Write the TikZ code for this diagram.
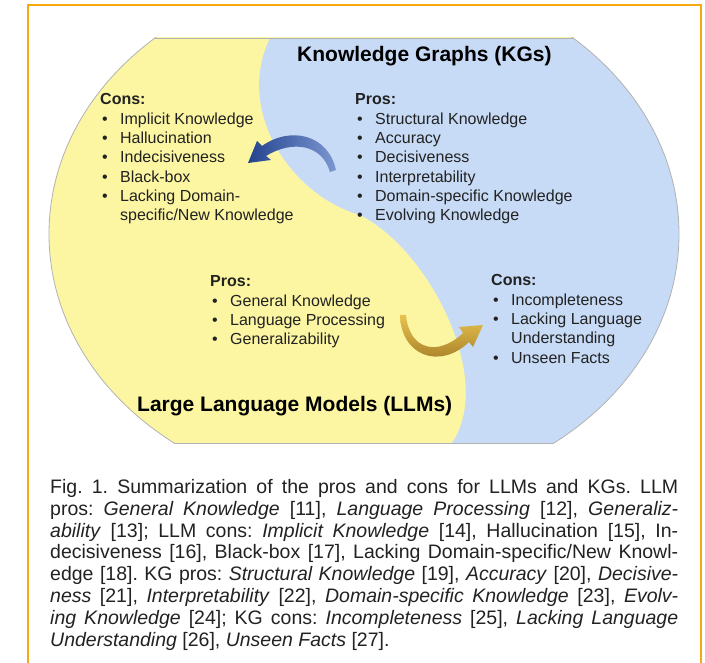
\documentclass[tikz,border=0pt]{standalone}
\usepackage{fontspec}
\setmainfont{Liberation Sans}
\frenchspacing
\definecolor{llmyellow}{HTML}{FCF6A2}
\definecolor{kgblue}{HTML}{C7DBF6}
\definecolor{frameorange}{HTML}{F4A90E}
\definecolor{txt}{HTML}{222222}
\definecolor{navy}{HTML}{24438F}
\definecolor{lightnavy}{HTML}{7C97D0}
\definecolor{goldA}{HTML}{E8C250}
\definecolor{goldB}{HTML}{9A7420}
\newcommand{\hd}[1]{\hbox{\textbf{#1}}}
\newcommand{\itm}[1]{\hbox{\hspace*{2pt}\makebox[18pt][l]{•}#1}}
\newcommand{\cnt}[1]{\hbox{\hspace*{20pt}#1}}
\newcommand{\jl}[1]{\hbox{\makebox[628pt][s]{#1}}}
\begin{document}
\begin{tikzpicture}[x=1pt,y=-1pt,
  listtext/.style={anchor=base west, inner sep=0pt, font=\fontsize{16}{19.3}\selectfont, text=txt},
  titletext/.style={anchor=base west, inner sep=0pt, font=\fontsize{21}{24}\selectfont\bfseries, text=black},
  captext/.style={anchor=base west, inner sep=0pt, font=\fontsize{19.5}{22}\selectfont, text=txt},
  outline/.style={draw=gray!60, line width=0.8pt}]
\useasboundingbox (0,0) rectangle (705,663);
\fill[white] (0,0) rectangle (705,663);
% frame
\draw[frameorange, line width=2pt] (28,670) -- (28,5) -- (701,5) -- (701,670);
% yin-yang shape
\begin{scope}
  \clip (0,38) rectangle (705,443);
  \clip (364,234) ellipse [x radius=315pt, y radius=262pt];
  \fill[llmyellow] (0,0) rectangle (705,663);
  \fill[kgblue] (270,38) .. controls (235,110) and (290,195) .. (360,215)
     .. controls (430,250) and (495,380) .. (452,443) -- (705,443) -- (705,38) -- cycle;
\end{scope}
\begin{scope}
  \clip (0,38) rectangle (705,443);
  \draw[outline] (364,234) ellipse [x radius=315pt, y radius=262pt];
\end{scope}
\begin{scope}
  \clip (364,234) ellipse [x radius=315pt, y radius=262pt];
  \draw[outline] (0,38) -- (705,38);
  \draw[outline] (0,443) -- (705,443);
\end{scope}
% arrows
\shade[left color=navy, right color=lightnavy]
  (336,170) .. controls (328,134) and (290,126) .. (262,146) -- (257,141) -- (248,163)
  -- (271,160) -- (266,156) .. controls (292,140) and (322,144) .. (330,172) -- cycle;
\shade[top color=goldA, bottom color=goldB]
  (400,315) .. controls (401,356) and (440,370) .. (469,342) -- (473,347) -- (483,325)
  -- (459,327) -- (463,333) .. controls (438,357) and (409,350) .. (406,315) -- cycle;
% titles
\node[titletext] (kgtitle) at (297,62) {Knowledge Graphs (KGs)};
\node[titletext] (llmtitle) at (137,412) {Large Language Models (LLMs)};
% lists
\node[listtext] (llmcons) at (100,105) {\vtop{\hd{Cons:}
  \itm{Implicit Knowledge}\itm{Hallucination}\itm{Indecisiveness}
  \itm{Black-box}\itm{Lacking Domain-}\cnt{specific/New Knowledge}}};
\node[listtext] (kgpros) at (355,105) {\vtop{\hd{Pros:}
  \itm{Structural Knowledge}\itm{Accuracy}\itm{Decisiveness}
  \itm{Interpretability}\itm{Domain-specific Knowledge}\itm{Evolving Knowledge}}};
\node[listtext] (llmpros) at (210,287) {\vtop{\hd{Pros:}
  \itm{General Knowledge}\itm{Language Processing}\itm{Generalizability}}};
\node[listtext] (kgcons) at (491,286) {\vtop{\hd{Cons:}
  \itm{Incompleteness}\itm{Lacking Language}\cnt{Understanding}\itm{Unseen Facts}}};
% caption
\node[captext] (caption) at (50,493) {\vtop{%
\jl{Fig. 1. Summarization of the pros and cons for LLMs and KGs. LLM}
\jl{pros: \textit{General Knowledge} [11], \textit{Language Processing} [12], \textit{Generaliz-}}
\jl{\textit{ability} [13]; LLM cons: \textit{Implicit Knowledge} [14], Hallucination [15], In-}
\jl{decisiveness [16], Black-box [17], Lacking Domain-specific/New Knowl-}
\jl{edge [18]. KG pros: \textit{Structural Knowledge} [19], \textit{Accuracy} [20], \textit{Decisive-}}
\jl{\textit{ness} [21], \textit{Interpretability} [22], \textit{Domain-specific Knowledge} [23], \textit{Evolv-}}
\jl{\textit{ing Knowledge} [24]; KG cons: \textit{Incompleteness} [25], \textit{Lacking Language}}
\hbox{\textit{Understanding} [26], \textit{Unseen Facts} [27].}}};
\end{tikzpicture}
\end{document}
